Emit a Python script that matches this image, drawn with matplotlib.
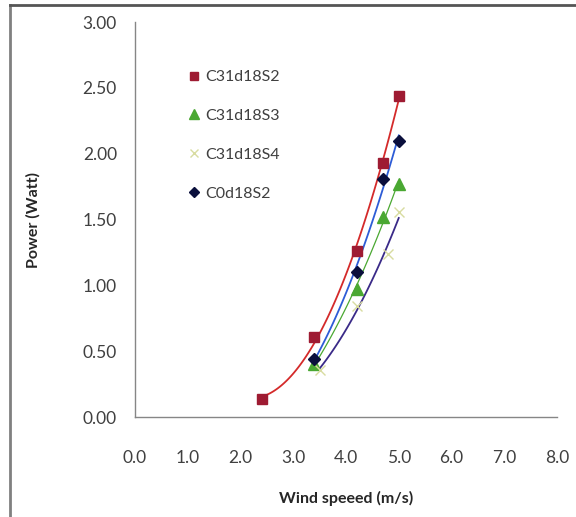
import numpy as np
import matplotlib
matplotlib.use("Agg")
import matplotlib.pyplot as plt
from matplotlib.lines import Line2D

plt.rcParams['font.family'] = ['Lato', 'DejaVu Sans']

# Data
x_s2 = [2.4, 3.4, 4.2, 4.7, 5.0]
y_s2 = [0.14, 0.61, 1.26, 1.93, 2.44]
x_s3 = [3.4, 4.2, 4.7, 5.0]
y_s3 = [0.40, 0.97, 1.52, 1.77]
x_s4 = [3.5, 4.2, 4.8, 5.0]
y_s4 = [0.36, 0.84, 1.24, 1.56]
x_c0 = [3.4, 4.2, 4.7, 5.0]
y_c0 = [0.44, 1.10, 1.81, 2.10]
labels = ["C31d18S2", "C31d18S3", "C31d18S4", "C0d18S2"]
xticks = [0, 1, 2, 3, 4, 5, 6, 7, 8]
yticks = [0.0, 0.5, 1.0, 1.5, 2.0, 2.5, 3.0]

W, H = 576, 517
fig = plt.figure(figsize=(W/100, H/100), dpi=100)
ax = fig.add_axes([135/W, 1-417/H, (557-135)/W, (417-22)/H])

# Frame around chart area
fig.add_artist(Line2D([10/W, 10/W], [0, 1-5/H], transform=fig.transFigure,
                      color='#808080', lw=2.0))
fig.add_artist(Line2D([10/W, 1], [1-5/H, 1-5/H], transform=fig.transFigure,
                      color='#555555', lw=2.0))

series = [
    (x_s2, y_s2, 's', '#9e1b32', '#9e1b32', '#d42a2a', 1.3, 7),
    (x_s3, y_s3, '^', '#4aa832', '#4aa832', '#4aa832', 0.9, 9),
    (x_s4, y_s4, 'x', '#d8dca0', '#d8dca0', '#3a2a88', 1.3, 7),
    (x_c0, y_c0, 'D', '#0a0f3c', '#0a0f3c', '#2d5cd6', 1.3, 6),
]
handles = []
for (xs, ys, m, fc, ec, lc, lw, ms), lab in zip(series, labels):
    xs = np.array(xs); ys = np.array(ys)
    coef = np.polyfit(xs, ys, 2)
    xx = np.linspace(xs.min(), xs.max(), 100)
    ax.plot(xx, np.polyval(coef, xx), color=lc, lw=lw, zorder=2)
    h, = ax.plot(xs, ys, linestyle='none', marker=m, markerfacecolor=fc,
                 markeredgecolor=ec, markersize=ms, zorder=3, label=lab,
                 markeredgewidth=1.0)
    handles.append(h)

ax.set_xlim(0, 8)
ax.set_ylim(0, 3)
ax.set_xticks(xticks)
ax.set_xticklabels([f"{v:.1f}" for v in xticks])
ax.set_yticks(yticks)
ax.set_yticklabels([f"{v:.2f}" for v in yticks])
ax.tick_params(length=0, labelsize=12.5, colors='#404040')
ax.tick_params(axis='y', pad=13)
ax.tick_params(axis='x', pad=24)
for s in ['top', 'right']:
    ax.spines[s].set_visible(False)
for s in ['left', 'bottom']:
    ax.spines[s].set_color('#868686')
    ax.spines[s].set_linewidth(1.0)

ax.set_xlabel("Wind speeed (m/s)", fontsize=11.5, fontweight='bold', color='#262626', labelpad=18)
ax.set_ylabel("Power (Watt)", fontsize=11.5, fontweight='bold', color='#262626', labelpad=30)

leg = ax.legend(handles=handles, loc='upper left', bbox_to_anchor=(0.09, 0.915),
                frameon=False, fontsize=11.5, labelspacing=1.55, handlelength=0.8,
                handletextpad=0.3, markerscale=0.85)
for t in leg.get_texts():
    t.set_color('#404040')

fig.savefig("out.png", dpi=100)
